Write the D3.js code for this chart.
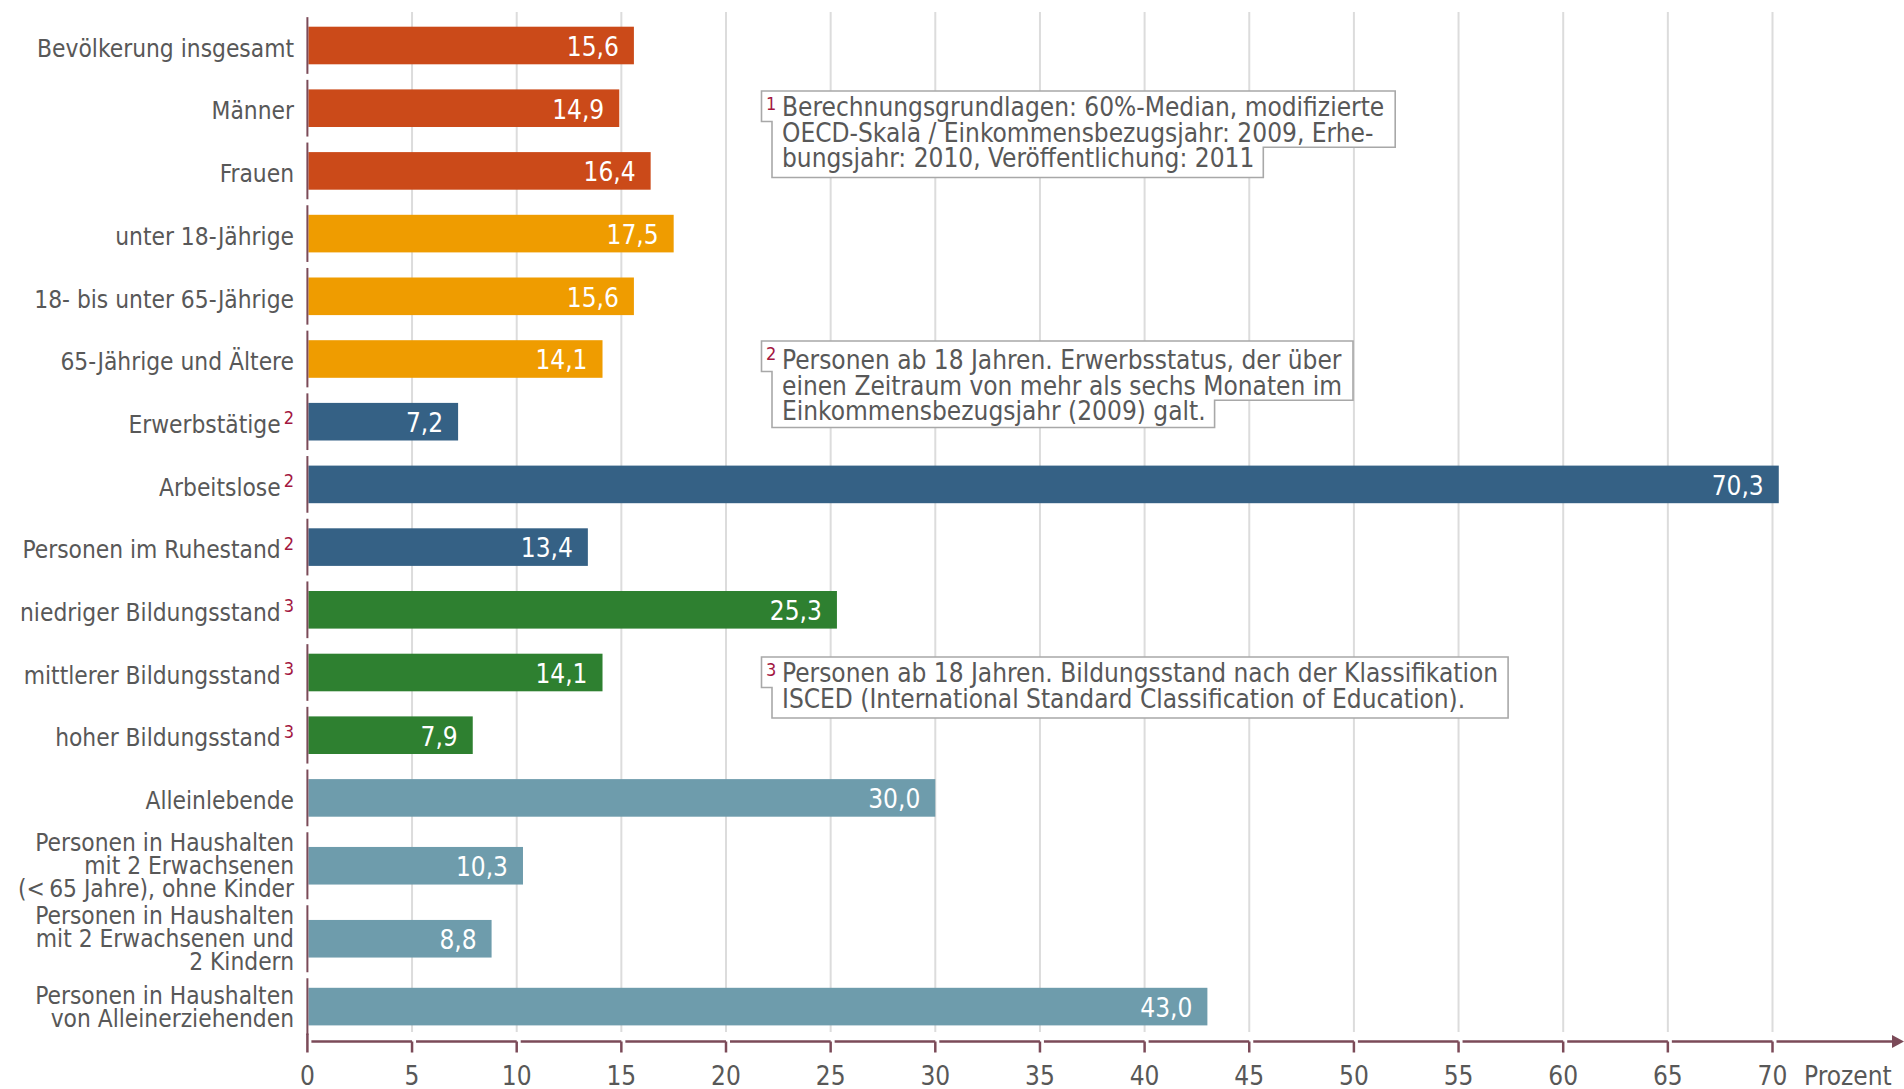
<!DOCTYPE html>
<html lang="de">
<head>
<meta charset="utf-8">
<script src="https://cdn.jsdelivr.net/npm/d3@7"></script>
<style>
  html, body { margin: 0; padding: 0; background: #fff; }
  svg { display: block; }
  text { font-family: 'DejaVu Sans Condensed', 'DejaVu Sans', sans-serif; font-stretch: condensed; }
</style>
</head>
<body>
<div id="chart"></div>
<script>
// Kategorien (Zeilenumbrüche mit \n), Werte in Prozent
const categories = [
  'Bevölkerung insgesamt',
  'Männer',
  'Frauen',
  'unter 18-Jährige',
  '18- bis unter 65-Jährige',
  '65-Jährige und Ältere',
  'Erwerbstätige',
  'Arbeitslose',
  'Personen im Ruhestand',
  'niedriger Bildungsstand',
  'mittlerer Bildungsstand',
  'hoher Bildungsstand',
  'Alleinlebende',
  'Personen in Haushalten\nmit 2 Erwachsenen\n(<\u200965 Jahre), ohne Kinder',
  'Personen in Haushalten\nmit 2 Erwachsenen und\n2 Kindern',
  'Personen in Haushalten\nvon Alleinerziehenden'
];
const values = [15.6, 14.9, 16.4, 17.5, 15.6, 14.1, 7.2, 70.3, 13.4, 25.3, 14.1, 7.9, 30.0, 10.3, 8.8, 43.0];
const groups = ['geschlecht', 'geschlecht', 'geschlecht', 'alter', 'alter', 'alter',
  'erwerb', 'erwerb', 'erwerb', 'bildung', 'bildung', 'bildung',
  'haushalt', 'haushalt', 'haushalt', 'haushalt'];
const footnoteRefs = ['', '', '', '', '', '', '2', '2', '2', '3', '3', '3', '', '', '', ''];
const xTicks = [0, 5, 10, 15, 20, 25, 30, 35, 40, 45, 50, 55, 60, 65, 70];
const unitLabel = 'Prozent';

const noteRefs = ['1', '2', '3'];
const noteLines = [
  ['Berechnungsgrundlagen: 60%-Median, modifizierte',
   'OECD-Skala / Einkommensbezugsjahr: 2009, Erhe-',
   'bungsjahr: 2010, Veröffentlichung: 2011'],
  ['Personen ab 18 Jahren. Erwerbsstatus, der über',
   'einen Zeitraum von mehr als sechs Monaten im',
   'Einkommensbezugsjahr (2009) galt.'],
  ['Personen ab 18 Jahren. Bildungsstand nach der Klassifikation',
   'ISCED (International Standard Classification of Education).']
];

const groupColors = {
  geschlecht: '#cb4a19',
  alter: '#ef9c00',
  erwerb: '#356185',
  bildung: '#2e8030',
  haushalt: '#6e9cac'
};

const W = 1904, H = 1089;
const textColor = '#585858';
const axisColor = '#7b4a58';
const refColor = '#a3173f';
const labelSize = 24.3;
const bigSize = 26;

const svg = d3.select('#chart').append('svg')
  .attr('width', W).attr('height', H);

const x = d3.scaleLinear().domain([0, 70]).range([307.4, 1772.5]);

// Zeilenhöhe hängt von der Anzahl der Beschriftungszeilen ab
const baseRow = 62.7, lineH = 23;
const rowSpans = categories.map(c => Math.max(1, (c.split('\n').length * lineH + 4) / baseRow));
const rowStarts = d3.cumsum([0, ...rowSpans]).slice(0, -1);
const total = d3.sum(rowSpans);
const yTop = 14.15;
const y = d3.scaleLinear().domain([0, total]).range([yTop, yTop + total * baseRow]);
const rowCenter = i => y(rowStarts[i] + rowSpans[i] / 2);
const barH = 37.6;
const axisY = 1041.5;

// Gitterlinien
svg.append('g').selectAll('line')
  .data(xTicks.filter(t => t > 0))
  .join('line')
  .attr('x1', d => x(d)).attr('x2', d => x(d))
  .attr('y1', 12).attr('y2', 1032)
  .attr('stroke', '#dcdcdc').attr('stroke-width', 2);

// Balken
svg.append('g').selectAll('rect')
  .data(values)
  .join('rect')
  .attr('x', x(0) + 1)
  .attr('y', (d, i) => rowCenter(i) - barH / 2)
  .attr('width', d => x(d) - x(0) - 1)
  .attr('height', barH)
  .attr('fill', (d, i) => groupColors[groups[i]]);

// Werte in den Balken
svg.append('g').selectAll('text')
  .data(values)
  .join('text')
  .attr('x', d => x(d) - 15)
  .attr('y', (d, i) => rowCenter(i) + 1)
  .attr('dy', '0.36em')
  .attr('text-anchor', 'end')
  .attr('fill', '#fff')
  .attr('font-size', bigSize)
  .text(d => d3.format('.1f')(d).replace('.', ','));

// senkrechte Achse, je Zeile ein Segment
svg.append('g').selectAll('line')
  .data(categories)
  .join('line')
  .attr('x1', x(0)).attr('x2', x(0))
  .attr('y1', (d, i) => y(rowStarts[i]) + 3)
  .attr('y2', (d, i) => y(rowStarts[i] + rowSpans[i]) - 3)
  .attr('stroke', axisColor).attr('stroke-width', 2);

// Kategoriebeschriftungen
const labelX = 294;
const labels = svg.append('g').selectAll('text')
  .data(categories)
  .join('text')
  .attr('text-anchor', 'end')
  .attr('fill', textColor)
  .attr('font-size', labelSize);

labels.each(function (d, i) {
  const lines = d.split('\n');
  const t = d3.select(this);
  const shift = lines.length === 1 ? 2.5 : 0;
  const y0 = rowCenter(i) + shift - (lines.length - 1) * lineH / 2;
  lines.forEach((ln, k) => {
    t.append('tspan').attr('x', labelX).attr('y', y0 + k * lineH).attr('dy', '0.36em').text(ln);
    if (k === lines.length - 1 && footnoteRefs[i]) {
      t.append('tspan').attr('dx', 3).attr('dy', '-0.1em')
        .attr('font-size', 18).attr('fill', refColor).attr('baseline-shift', '40%')
        .text(footnoteRefs[i]);
    }
  });
});

// waagerechte Achse: Segmente zwischen den Ticks
const xAxis = svg.append('g').attr('stroke', axisColor).attr('stroke-width', 2.5).attr('fill', 'none');
xTicks.forEach((t, k) => {
  xAxis.append('line').attr('x1', x(t)).attr('x2', x(t)).attr('y1', k === 0 ? axisY - 8 : axisY).attr('y2', axisY + 11);
  const next = k < xTicks.length - 1 ? x(xTicks[k + 1]) : 1894;
  xAxis.append('line').attr('x1', x(t) + 4).attr('x2', next).attr('y1', axisY).attr('y2', axisY);
});
svg.append('path')
  .attr('d', `M1892,${axisY - 6.5}L1904,${axisY}L1892,${axisY + 6.5}Z`)
  .attr('fill', axisColor);

svg.append('g').selectAll('text')
  .data(xTicks)
  .join('text')
  .attr('x', d => x(d))
  .attr('y', 1076)
  .attr('dy', '0.36em')
  .attr('text-anchor', 'middle')
  .attr('fill', textColor)
  .attr('font-size', bigSize)
  .text(d => d);

svg.append('text')
  .attr('x', 1804).attr('y', 1076).attr('dy', '0.36em')
  .attr('fill', textColor).attr('font-size', bigSize)
  .text(unitLabel);

// Fußnoten-Kästen
const noteTops = [91, 341, 657];
const noteTextOffset = [16, 19, 16];
const noteLineH = 25.5;
const boxLeft = 761.5, boxInner = 772, textX = 782;
noteLines.forEach((lines, n) => {
  const g = svg.append('g');
  const top = noteTops[n];
  const off = noteTextOffset[n];
  const path = g.append('path').attr('fill', '#fff').attr('stroke', '#a8a8a8').attr('stroke-width', 1.6);
  const widths = lines.map((ln, k) => {
    const t = g.append('text')
      .attr('x', textX).attr('y', top + off + k * noteLineH).attr('dy', '0.36em')
      .attr('fill', textColor).attr('font-size', bigSize).text(ln);
    return t.node().getComputedTextLength();
  });
  g.append('text')
    .attr('x', boxLeft + 4.5).attr('y', top + 13).attr('dy', '0.36em')
    .attr('fill', refColor).attr('font-size', 18).text(noteRefs[n]);
  const bottom = top + 16 + (lines.length - 1) * noteLineH + 19.5;
  const notchY = top + 30.5;
  let d;
  if (lines.length === 3) {
    const r1 = textX + d3.max(widths.slice(0, 2)) + 11;
    const r2 = textX + widths[2] + 9;
    const stepY = top + off + 1.5 * noteLineH + 2;
    d = `M${boxLeft},${top}H${r1}V${stepY}H${r2}V${bottom}H${boxInner}V${notchY}H${boxLeft}Z`;
  } else {
    const r1 = textX + d3.max(widths) + 10;
    d = `M${boxLeft},${top}H${r1}V${bottom}H${boxInner}V${notchY}H${boxLeft}Z`;
  }
  path.attr('d', d);
});
</script>
</body>
</html>
